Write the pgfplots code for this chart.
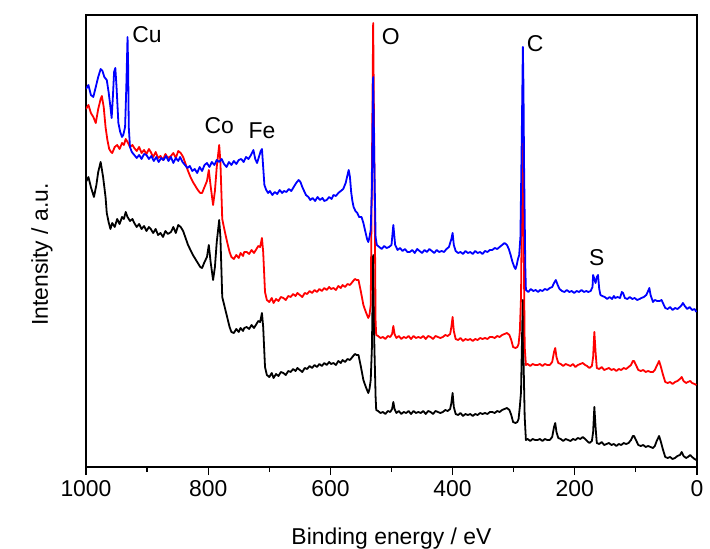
\documentclass[border=0pt]{standalone}
\usepackage{fontspec}
\setmainfont{Liberation Sans}
\usepackage{pgfplots}
\usepackage{pgfplotstable}
\pgfplotsset{compat=1.18}

\pgfplotstableread{
E I
1000 285
996 290
992 280
987 270
983 282
980 295
976 305
972 290
968 270
966 254
963 245
960 238
957 244
953 240
949 248
945 243
941 250
938 248
935 255
932 250
928 246
924 248
921 244
917 240
913 243
909 238
905 241
901 236
897 240
894 238
890 234
886 238
882 232
878 234
874 230
870 236
866 233
861 235
857 240
853 234
849 242
845 240
841 236
837 229
833 222
829 217
825 212
821 208
817 204
813 200
810 199
806 205
802 210
799 222
796 205
792 187
789 200
786 225
782 247
780 230
777 170
773 160
769 150
765 140
762 135
758 134
754 138
750 135
747 139
743 136
741 139
737 140
733 138
729 142
725 139
721 143
718 146
715 145
712 154
710 140
707 100
704 92
700 90
696 94
693 89
689 93
685 91
681 95
677 94
673 92
669 96
665 95
661 98
657 96
654 99
650 97
646 95
642 99
638 98
634 101
630 99
626 102
622 100
618 103
614 101
610 104
606 102
602 105
599 103
595 104
591 102
587 106
583 104
580 107
576 105
572 108
568 107
564 110
560 113
557 112
554 112
550 100
546 87
542 80
538 74
536 78
534 87
532 120
530 212
528 120
526 70
525 57
522 56
518 54
514 55
510 53
506 56
502 55
499 58
497 65
495 58
492 54
488 56
484 53
480 55
476 54
472 56
468 53
464 56
460 54
456 55
452 54
448 56
444 53
440 56
436 55
432 53
428 56
424 55
420 54
416 55
412 57
408 56
404 58
402 64
400 74
398 60
395 53
391 52
387 54
383 51
379 53
375 52
371 53
367 51
363 53
359 52
355 54
351 53
347 54
343 53
339 55
335 55
331 54
327 56
323 55
319 57
315 58
311 59
307 57
304 52
301 45
297 44
294 45
292 48
290 60
288 75
286 140
285 167
284 110
282 50
280 27
277 28
273 26
269 28
265 27
261 27
257 28
253 26
249 28
245 27
241 27
237 30
234 40
232 44
230 35
227 29
223 28
219 26
215 28
211 27
207 26
203 28
199 27
195 29
191 28
187 30
183 28
180 26
176 24
172 26
170 35
168 60
166 40
164 24
160 23
156 25
152 22
148 23
144 24
140 22
136 23
132 21
128 23
124 22
120 24
116 23
112 24
108 27
105 31
103 31
100 27
96 22
92 21
88 22
84 20
80 21
76 20
72 19
69 21
66 26
62 31
59 25
56 18
52 10
48 9
44 10
40 8
36 9
32 11
28 12
25 15
22 11
18 9
15 10
11 12
8 10
4 8
1 7
}\blackdata

\pgfplotstableread{
E I
1000 358
996 362
992 354
988 350
984 344
980 358
976 368
974 371
971 360
968 340
965 327
962 318
959 315
957 314
953 320
949 322
945 318
941 324
938 322
935 328
932 325
928 320
924 322
921 319
917 316
913 320
909 314
905 317
901 313
897 318
894 315
890 310
886 315
882 309
878 311
874 307
870 313
866 309
861 311
857 314
853 309
849 316
845 314
841 310
837 303
833 296
829 290
825 285
821 281
817 277
813 274
810 274
806 280
802 286
799 297
796 281
792 262
789 276
786 300
782 322
780 305
777 248
773 236
769 225
765 215
762 210
758 208
754 212
750 209
747 214
743 211
741 215
737 215
733 213
729 217
725 214
721 218
718 221
715 220
712 229
710 215
707 175
704 167
700 165
696 169
693 164
689 168
685 166
681 170
677 169
673 167
669 171
665 170
661 173
657 171
654 174
650 172
646 170
642 174
638 173
634 176
630 174
626 177
622 175
618 178
614 176
610 179
606 177
602 180
599 178
595 179
591 177
587 181
583 179
580 182
576 180
572 183
568 182
564 185
560 188
557 187
554 187
550 175
546 162
542 155
538 149
536 152
534 162
532 300
530 444
528 300
526 145
525 132
522 131
518 129
514 130
510 128
506 131
502 130
499 133
497 141
495 133
492 129
488 131
484 128
480 130
476 129
472 131
468 128
464 131
460 129
456 130
452 129
448 131
444 128
440 131
436 130
432 128
428 131
424 130
420 129
416 130
412 132
408 131
404 133
402 140
400 150
398 136
395 128
391 127
387 129
383 126
379 128
375 127
371 128
367 126
363 128
359 127
355 129
351 128
347 129
343 128
339 130
335 130
331 129
327 131
323 130
319 132
315 133
311 134
307 132
304 127
301 120
297 119
294 120
292 123
290 135
288 170
286 300
285 380
284 250
282 120
280 102
277 103
273 101
269 103
265 102
261 102
257 103
253 101
249 103
245 102
241 102
237 105
234 115
232 119
230 110
227 104
223 103
219 101
215 103
211 102
207 101
203 103
199 100
195 102
191 103
187 104
183 102
180 101
176 99
172 101
170 110
168 135
166 115
164 99
160 98
156 100
152 97
148 98
144 99
140 97
136 98
132 96
128 98
124 97
120 99
116 98
112 100
108 102
105 106
103 106
100 102
96 97
92 96
88 97
84 95
80 96
76 95
72 95
69 97
66 101
62 106
59 100
56 93
52 85
48 84
44 85
40 83
36 85
32 86
28 88
25 90
22 86
18 84
15 85
11 86
8 84
4 83
1 82
}\reddata

\pgfplotstableread{
E I
1000 378
996 382
992 372
988 370
984 380
980 390
976 398
973 396
970 390
966 387
963 375
960 360
958 349
956 370
954 395
952 399
950 380
947 344
944 335
941 330
939 332
936 340
934 380
932 430
931 400
930 340
928 320
925 315
921 312
917 309
913 312
909 308
905 313
901 312
897 308
893 311
889 306
885 310
881 305
877 309
873 307
869 311
865 306
861 310
857 304
853 309
849 306
846 310
842 305
838 302
834 299
830 301
826 296
822 298
818 294
814 300
810 296
806 302
802 304
798 300
794 305
790 302
786 307
782 305
778 308
774 303
770 300
766 305
762 302
758 306
754 303
750 307
746 308
742 305
738 310
734 308
730 312
726 317
723 308
720 304
717 310
714 316
712 318
710 300
708 282
705 277
702 274
699 276
695 272
691 275
687 273
683 277
679 274
676 276
672 275
668 278
664 276
660 280
656 284
652 287
649 285
646 280
643 276
640 272
636 270
633 267
629 269
625 266
621 270
617 267
613 269
610 266
606 267
602 270
598 268
595 272
591 271
587 274
583 276
579 278
575 284
572 292
570 297
568 290
566 275
564 266
562 260
559 256
556 254
553 250
549 250
546 244
543 236
540 228
538 225
536 230
534 237
532 280
530 390
528 300
526 230
524 222
520 220
516 218
512 221
508 219
504 220
500 222
497 242
494 222
490 217
486 219
482 216
478 218
474 215
470 215
466 217
462 214
458 218
454 216
450 214
446 217
442 215
438 218
434 216
430 214
426 217
422 215
418 216
414 215
410 218
406 220
402 228
400 234
398 222
395 216
391 214
387 215
383 213
379 216
375 214
371 215
367 213
363 216
359 214
355 215
351 213
347 216
343 215
339 217
335 217
331 219
327 218
323 220
319 222
315 224
311 222
308 218
305 212
302 205
299 200
297 198
295 202
293 208
291 212
289 230
287 320
285 420
284 380
283 300
281 200
280 177
276 175
272 178
268 176
264 177
260 175
257 177
253 176
249 178
245 177
241 179
237 180
234 184
231 187
228 182
225 178
221 176
217 175
213 177
209 175
205 176
201 174
197 176
193 175
189 177
185 175
181 176
178 175
174 176
171 180
170 192
168 188
166 184
164 190
162 192
160 178
158 172
155 171
151 170
147 168
143 170
139 168
136 171
134 169
130 170
126 169
123 175
121 174
118 169
114 168
110 170
106 168
102 169
98 167
94 168
91 169
87 170
83 172
80 176
78 179
76 172
72 165
69 167
65 166
61 166
58 167
55 163
52 159
48 158
44 160
40 157
36 159
32 158
28 160
25 162
23 164
20 161
16 158
12 160
8 157
4 158
1 155
}\bluedata

\begin{document}
\begin{tikzpicture}
\begin{axis}[
  scale only axis,
  width=611bp, height=452bp,
  xmin=0, xmax=1000, ymin=0, ymax=452,
  x dir=reverse,
  xtick={0,200,400,600,800,1000},
  minor x tick num=1,
  ytick=\empty,
  xtick pos=bottom,
  tick align=outside,
  major tick length=8bp,
  minor tick length=5bp,
  axis line style={line width=1.2bp},
  every tick/.style={line width=1.2bp, black},
  /pgf/number format/assume math mode=true,
  /pgf/number format/1000 sep={},
  tick label style={font=\fontsize{23}{27}\selectfont},
  xticklabel style={yshift=-2bp},
  label style={font=\fontsize{23}{27}\selectfont},
  xlabel={Binding energy / eV},
  ylabel={Intensity / a.u.},
  xlabel style={at={(axis description cs:0.5,-0.158)}, anchor=center},
  ylabel style={at={(axis description cs:-0.072,0.470)}, anchor=center, rotate=0},
  clip=true,
]
\addplot[black, line width=1.8bp, line join=round] table[x=E, y=I] {\blackdata};
\addplot[red, line width=1.8bp, line join=round] table[x=E, y=I] {\reddata};
\addplot[blue, line width=1.8bp, line join=round] table[x=E, y=I] {\bluedata};
\node[font=\fontsize{23}{27}\selectfont] at (axis cs:900,432) {Cu};
\node[font=\fontsize{23}{27}\selectfont] at (axis cs:501,430) {O};
\node[font=\fontsize{23}{27}\selectfont] at (axis cs:265,423) {C};
\node[font=\fontsize{23}{27}\selectfont] at (axis cs:782,341) {Co};
\node[font=\fontsize{23}{27}\selectfont] at (axis cs:712,336) {Fe};
\node[font=\fontsize{23}{27}\selectfont] at (axis cs:164,209) {S};
\coordinate (sw) at (rel axis cs:0,0);
\coordinate (ne) at (rel axis cs:1,1);
\end{axis}
\pgfresetboundingbox
\path ([shift={(-86bp,-82bp)}]sw) rectangle ([shift={(13bp,15bp)}]ne);
\end{tikzpicture}
\end{document}
